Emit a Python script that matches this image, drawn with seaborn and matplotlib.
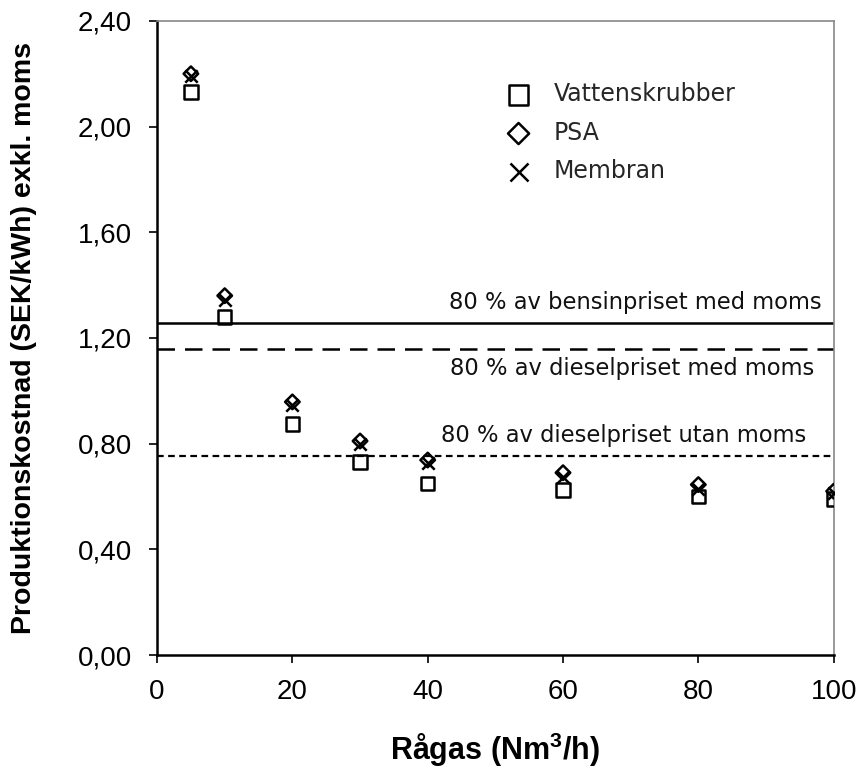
import matplotlib
matplotlib.use("Agg")
import matplotlib.pyplot as plt
import seaborn as sns
import pandas as pd
from matplotlib.ticker import FuncFormatter

# Data
ragas = [5, 10, 20, 30, 40, 60, 80, 100]
vattenskrubber = [2.13, 1.28, 0.875, 0.73, 0.65, 0.625, 0.60, 0.59]
psa = [2.20, 1.36, 0.958, 0.81, 0.738, 0.69, 0.645, 0.62]
membran = [2.19, 1.345, 0.948, 0.80, 0.728, 0.675, 0.628, 0.612]
series_names = ["Vattenskrubber", "PSA", "Membran"]

ref_values = [1.255, 1.16, 0.755]
ref_labels = ["80 % av bensinpriset med moms",
              "80 % av dieselpriset med moms",
              "80 % av dieselpriset utan moms"]

sns.set_theme(style="white")
plt.rcParams['font.family'] = ['Liberation Sans', 'DejaVu Sans']
plt.rcParams['mathtext.fontset'] = 'custom'
plt.rcParams['mathtext.rm'] = 'Liberation Sans'
plt.rcParams['mathtext.bf'] = 'Liberation Sans:bold'

fig = plt.figure(figsize=(8.63, 7.74), dpi=100)
ax = fig.add_axes([0.182, 0.1537, 0.784, 0.8193])

df = pd.DataFrame({"x": ragas, "Vattenskrubber": vattenskrubber,
                   "PSA": psa, "Membran": membran})

sns.scatterplot(data=df, x="x", y="Vattenskrubber", marker="s", s=95,
                facecolor="none", edgecolor="black", linewidth=1.8,
                label=series_names[0], ax=ax, zorder=3)
sns.scatterplot(data=df, x="x", y="PSA", marker="D", s=55,
                facecolor="none", edgecolor="black", linewidth=1.8,
                label=series_names[1], ax=ax, zorder=3)
sns.scatterplot(data=df, x="x", y="Membran", marker="x", s=80,
                color="black", linewidth=1.8,
                label=series_names[2], ax=ax, zorder=4)

styles = ["-", (0, (7, 4)), (0, (3, 2))]
widths = [1.8, 1.8, 1.6]
for v, ls, lw in zip(ref_values, styles, widths):
    ax.axhline(v, color="black", linestyle=ls, linewidth=lw, zorder=2)

label_font = dict(family=['DejaVu Sans'], fontsize=16.3, color="#111111")
ax.text(98.2, 1.335, ref_labels[0], ha="right", va="center", **label_font)
ax.text(97.2, 1.085, ref_labels[1], ha="right", va="center", **label_font)
ax.text(96.0, 0.83, ref_labels[2], ha="right", va="center", **label_font)

ax.set_xlim(0, 100)
ax.set_ylim(0, 2.40)
ax.set_xticks([0, 20, 40, 60, 80, 100])
ax.set_yticks([0, 0.4, 0.8, 1.2, 1.6, 2.0, 2.4])
ax.yaxis.set_major_formatter(FuncFormatter(lambda v, p: f"{v:.2f}".replace(".", ",")))
ax.tick_params(axis="both", labelsize=20, length=6, width=1.2, direction="out",
               colors="black", bottom=True, left=True)
ax.tick_params(axis="y", pad=12)
ax.tick_params(axis="x", pad=11)

for side in ["left", "bottom"]:
    ax.spines[side].set_color("black")
    ax.spines[side].set_linewidth(1.8)
for side in ["top", "right"]:
    ax.spines[side].set_color("#888888")
    ax.spines[side].set_linewidth(1.2)

ax.set_xlabel(r"Rågas (Nm$^{\mathbf{3}}$/h)", fontsize=22, fontweight="bold",
              color="black")
ax.set_ylabel("Produktionskostnad (SEK/kWh) exkl. moms", fontsize=20.5,
              fontweight="bold", color="black")
ax.xaxis.label.set_verticalalignment("center")
ax.yaxis.label.set_verticalalignment("center")
ax.xaxis.set_label_coords(0.5, -0.15)
ax.yaxis.set_label_coords(-0.197, 0.5)

leg = ax.legend(loc="upper left", bbox_to_anchor=(0.468, 0.937), frameon=False,
                prop={"family": "DejaVu Sans", "size": 17}, labelspacing=0.62,
                handletextpad=0.5, markerscale=1.45)

fig.savefig("out.png", dpi=100, facecolor="white")
